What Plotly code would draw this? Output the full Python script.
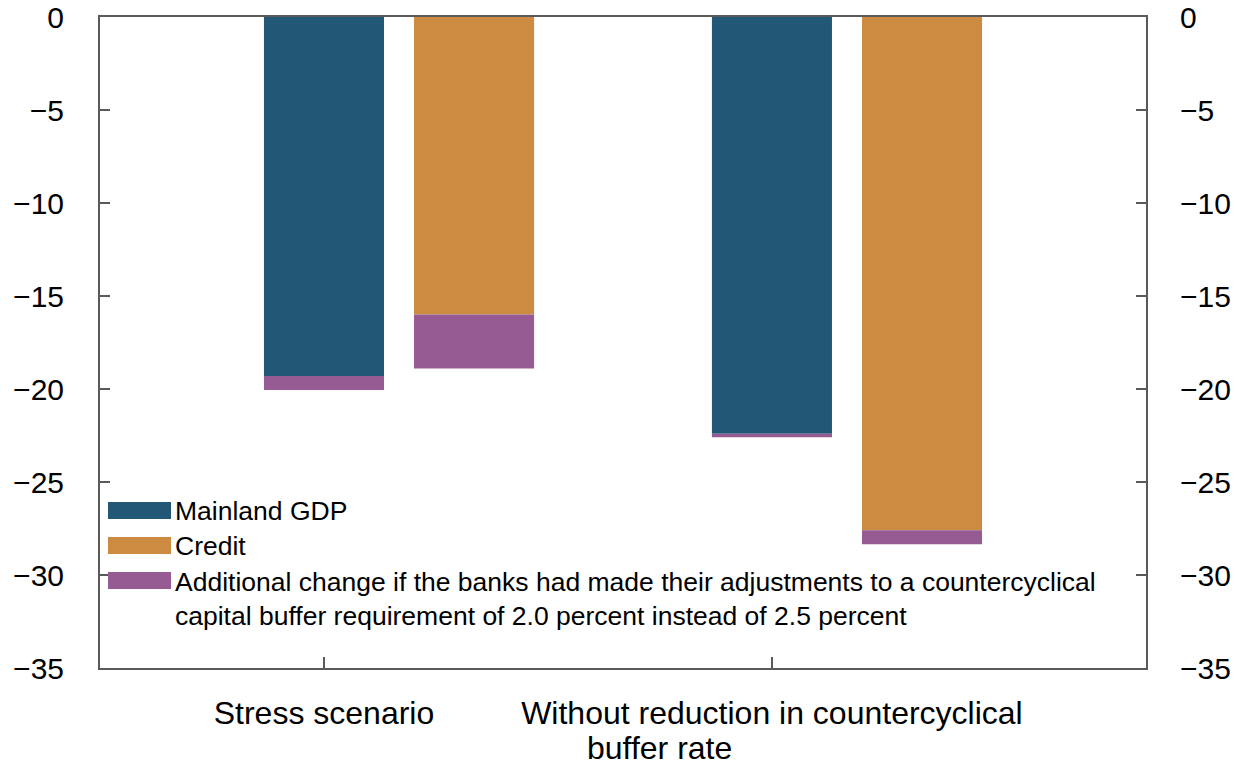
import plotly.graph_objects as go

# Scenario categories and results (percent change)
scenarios = ["Stress scenario", "Without reduction in countercyclical"]
scenario_line2 = ["", "buffer rate"]
gdp = [-19.3, -22.4]
credit = [-16.0, -27.6]
extra_gdp = [-0.75, -0.2]
extra_credit = [-2.9, -0.75]

legend_labels = [
    "Mainland GDP",
    "Credit",
    "Additional change if the banks had made their adjustments to a countercyclical<br>"
    "capital buffer requirement of 2.0 percent instead of 2.5 percent",
]

y_ticks = [0, -5, -10, -15, -20, -25, -30, -35]

BLUE = "#225876"
ORANGE = "#cd8b42"
PURPLE = "#975b94"
AXIS = "#5a5a5a"
FONT = "Liberation Sans, Arial, sans-serif"

W, H = 1235, 766
ML, MR, MT, MB = 100, 89, 17, 98
PW, PH = W - ML - MR, H - MT - MB

CREDIT_OFFSET = 0.335
BAR_W = 0.268

pos = list(range(len(scenarios)))
pos_credit = [p + CREDIT_OFFSET for p in pos]


def px_x(p):
    return (p - ML) / PW


def px_y(p):
    return (H - MB - p) / PH


fig = go.Figure()
fig.add_bar(x=pos, y=gdp, width=BAR_W, marker=dict(color=BLUE, line_width=0),
            name=legend_labels[0])
fig.add_bar(x=pos_credit, y=credit, width=BAR_W, marker=dict(color=ORANGE, line_width=0),
            name=legend_labels[1])
fig.add_bar(x=pos + pos_credit, y=extra_gdp + extra_credit, base=gdp + credit,
            width=BAR_W, marker=dict(color=PURPLE, line_width=0), name="Additional change")

fig.update_layout(
    width=W, height=H,
    margin=dict(l=ML, r=MR, t=MT, b=MB, autoexpand=False),
    barmode="overlay",
    showlegend=False,
    plot_bgcolor="white", paper_bgcolor="white",
    font=dict(family=FONT, size=30, color="black"),
    xaxis=dict(
        range=[-0.5, 1.835],
        tickmode="array", tickvals=pos, ticktext=scenarios,
        ticks="inside", ticklen=11, tickwidth=1.5, tickcolor=AXIS,
        showline=True, linecolor=AXIS, linewidth=2, mirror=True,
        showgrid=False, zeroline=False, automargin=False,
        ticklabelstandoff=16,
        tickfont=dict(size=32),
    ),
    yaxis=dict(
        range=[-35, 0], tickvals=y_ticks,
        ticks="inside", ticklen=10, tickwidth=1.5, tickcolor=AXIS,
        showline=True, linecolor=AXIS, linewidth=2,
        showgrid=False, zeroline=False, automargin=False,
        ticklabelstandoff=28,
        tickfont=dict(size=30),
    ),
    yaxis2=dict(
        range=[-35, 0], tickvals=y_ticks, overlaying="y", side="right",
        ticks="inside", ticklen=10, tickwidth=1.5, tickcolor=AXIS,
        showline=True, linecolor=AXIS, linewidth=2,
        showgrid=False, zeroline=False, automargin=False,
        ticklabelstandoff=26,
        tickfont=dict(size=30),
    ),
)

# invisible trace to activate the right-hand axis
fig.add_scatter(x=[pos[0]], y=[0], yaxis="y2", mode="markers",
                marker=dict(opacity=0), hoverinfo="skip", showlegend=False)

# second line of the long category label
for p, txt in zip(pos, scenario_line2):
    if txt:
        fig.add_annotation(x=p, xref="x", y=px_y(748), yref="paper",
                           text=txt, showarrow=False, xshift=-112,
                           height=34, valign="middle",
                           font=dict(size=32), xanchor="center", yanchor="middle")

# legend drawn inside the plot area
swatch_tops = [502, 537, 572]
text_centers = [511, 546, 598.5]
for col, top, tc, lab in zip([BLUE, ORANGE, PURPLE], swatch_tops, text_centers, legend_labels):
    fig.add_shape(type="rect", xref="paper", yref="paper",
                  x0=px_x(108), x1=px_x(171), y0=px_y(top + 17), y1=px_y(top),
                  fillcolor=col, line_width=0)
    fig.add_annotation(x=px_x(173), y=px_y(tc), xref="paper", yref="paper",
                       text=lab, showarrow=False, xanchor="left", yanchor="middle",
                       align="left", font=dict(size=26.5))

fig.write_html("out.html")
